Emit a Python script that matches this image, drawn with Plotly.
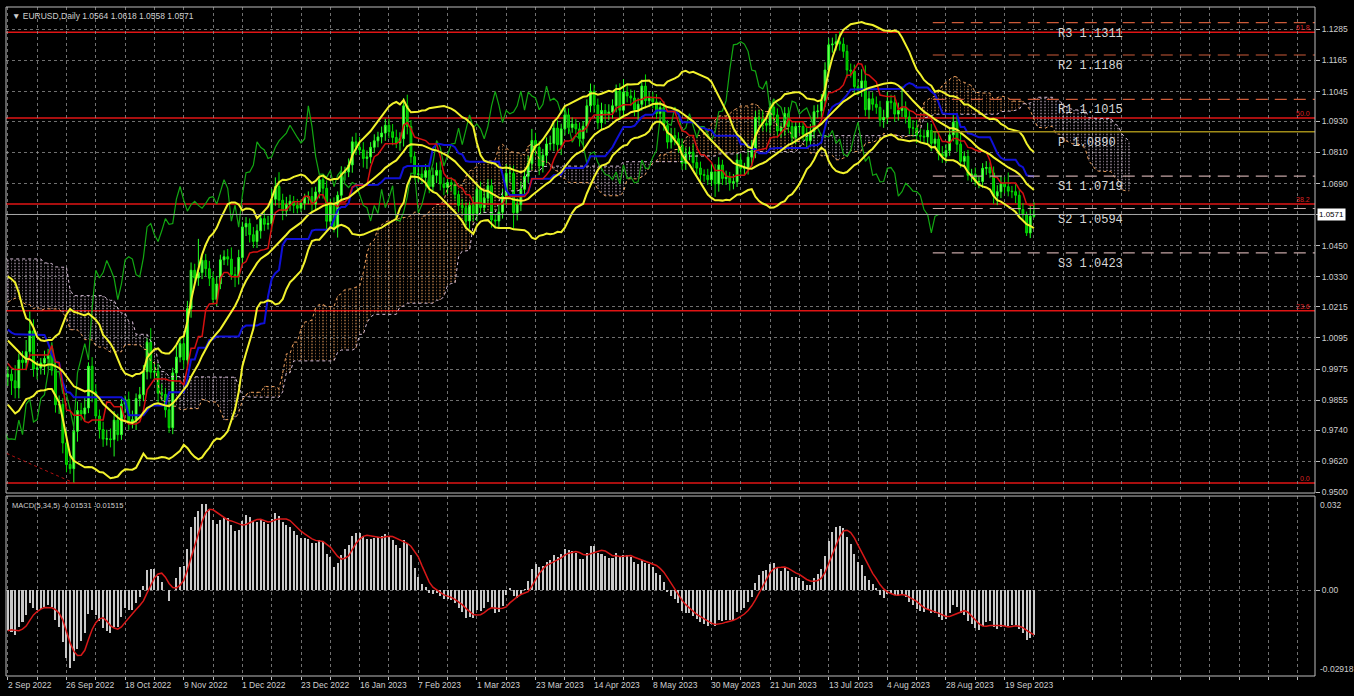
import numpy as np
import pandas as pd
import plotly.graph_objects as go

# ---------------- texts / tick labels ----------------
title_text = "\u25bc EURUSD,Daily 1.0564 1.0618 1.0558 1.0571"
macd_text = "MACD(5,34,5) -0.01531 -0.01515"
date_labels = ["2 Sep 2022", "26 Sep 2022", "18 Oct 2022", "9 Nov 2022", "1 Dec 2022",
               "23 Dec 2022", "16 Jan 2023", "7 Feb 2023", "1 Mar 2023", "23 Mar 2023",
               "14 Apr 2023", "8 May 2023", "30 May 2023", "21 Jun 2023", "13 Jul 2023",
               "4 Aug 2023", "28 Aug 2023", "19 Sep 2023"]
bars_per_label = 16
bars_per_grid = 8
price_ticks = [1.1285, 1.1165, 1.1045, 1.0930, 1.0810, 1.0690, 1.0570, 1.0450, 1.0330,
               1.0215, 1.0095, 0.9975, 0.9855, 0.9740, 0.9620, 0.9500]
last_price = 1.0571
macd_top, macd_bottom = 0.032, -0.02918

fib_levels = [0.9536, 1.0200, 1.0611, 1.0943, 1.1274]
fib_names = ["0.0", "23.6", "38.2", "50.0", "61.8"]
fib_anchor_bars = [-435, 18]
fib_anchor_prices = [1.2349, 0.9536]

pivot_names = ["R3", "R2", "R1", "P", "S1", "S2", "S3"]
pivot_values = [1.1311, 1.1186, 1.1015, 1.0890, 1.0719, 1.0594, 1.0423]

# ---------------- daily closes (estimated) ----------------
# bars before the visible window (needed for the indicators)
pre_first_open = 1.0412
close_may22 = [1.0437, 1.0552, 1.0465, 1.0585, 1.0563, 1.0690, 1.0735, 1.0680, 1.0725, 1.0732, 1.0780, 1.0733]
close_jun22 = [1.0650, 1.0750, 1.0719, 1.0697, 1.0706, 1.0716, 1.0615, 1.0518, 1.0410, 1.0416, 1.0445,
               1.0548, 1.0496, 1.0510, 1.0534, 1.0567, 1.0523, 1.0554, 1.0583, 1.0518, 1.0441, 1.0484]
close_jul22 = [1.0425, 1.0424, 1.0267, 1.0183, 1.0161, 1.0183, 1.0039, 1.0037, 1.0060, 1.0019, 1.0084,
               1.0139, 1.0227, 1.0178, 1.0230, 1.0212, 1.0222, 1.0120, 1.0198, 1.0196, 1.0225]
close_aug22 = [1.0260, 1.0163, 1.0166, 1.0247, 1.0180, 1.0196, 1.0213, 1.0297, 1.0321, 1.0258, 1.0160,
               1.0169, 1.0177, 1.0084, 1.0035, 0.9943, 0.9967, 0.9970, 0.9973, 0.9964, 1.0004, 1.0016, 1.0054]
close_sep22_pre = [0.9945]
# visible window: 2 Sep 2022 .. 29 Sep 2023
close_sep22 = [0.9955, 0.9930, 0.9902, 1.0010, 1.0000, 1.0042, 1.0122, 0.9975, 0.9979, 0.9998, 1.0016,
               1.0028, 0.9970, 0.9837, 0.9838, 0.9690, 0.9607, 0.9591, 0.9735, 0.9815, 0.9802]
close_oct22 = [0.9825, 0.9986, 0.9887, 0.9794, 0.9742, 0.9705, 0.9706, 0.9703, 0.9778, 0.9722, 0.9840,
               0.9858, 0.9771, 0.9780, 0.9861, 0.9876, 0.9965, 1.0078, 0.9963, 0.9966, 0.9882]
close_nov22 = [0.9877, 0.9818, 0.9749, 0.9960, 1.0021, 1.0073, 1.0010, 1.0208, 1.0356, 1.0326, 1.0347,
               1.0394, 1.0362, 1.0325, 1.0243, 1.0303, 1.0396, 1.0408, 1.0399, 1.0339, 1.0331, 1.0405]
close_dec22 = [1.0523, 1.0536, 1.0493, 1.0467, 1.0508, 1.0555, 1.0533, 1.0536, 1.0630, 1.0679, 1.0626,
               1.0584, 1.0609, 1.0622, 1.0606, 1.0595, 1.0614, 1.0636, 1.0640, 1.0611, 1.0658, 1.0705]
close_jan23 = [1.0672, 1.0545, 1.0607, 1.0522, 1.0645, 1.0732, 1.0735, 1.0762, 1.0851, 1.0830, 1.0820,
               1.0787, 1.0793, 1.0830, 1.0855, 1.0870, 1.0885, 1.0915, 1.0890, 1.0868, 1.0847, 1.0863]
close_feb23 = [1.0990, 1.0910, 1.0794, 1.0726, 1.0727, 1.0714, 1.0740, 1.0678, 1.0722, 1.0741, 1.0689,
               1.0675, 1.0694, 1.0686, 1.0648, 1.0606, 1.0597, 1.0546, 1.0606, 1.0575]
close_mar23 = [1.0668, 1.0597, 1.0634, 1.0682, 1.0550, 1.0546, 1.0580, 1.0640, 1.0730, 1.0730, 1.0578,
               1.0609, 1.0668, 1.0718, 1.0768, 1.0856, 1.0830, 1.0758, 1.0799, 1.0843, 1.0845, 1.0904, 1.0840]
close_apr23 = [1.0901, 1.0955, 1.0906, 1.0920, 1.0901, 1.0863, 1.0911, 1.0990, 1.1046, 1.0993, 1.0925,
               1.0972, 1.0959, 1.0966, 1.0990, 1.1047, 1.0973, 1.1043, 1.1028, 1.1020]
close_may23 = [1.0975, 1.0996, 1.1066, 1.1010, 1.1019, 1.1005, 1.0960, 1.0983, 1.0914, 1.0850, 1.0875,
               1.0863, 1.0839, 1.0768, 1.0805, 1.0812, 1.0771, 1.0750, 1.0725, 1.0722, 1.0705, 1.0735, 1.0689]
close_jun23 = [1.0762, 1.0710, 1.0715, 1.0693, 1.0697, 1.0781, 1.0749, 1.0750, 1.0792, 1.0818, 1.0945,
               1.0939, 1.0922, 1.0915, 1.0985, 1.0955, 1.0893, 1.0905, 1.0960, 1.0910, 1.0867, 1.0910]
close_jul23 = [1.0910, 1.0880, 1.0855, 1.0890, 1.0967, 1.0970, 1.1010, 1.1128, 1.1225, 1.1228, 1.1237,
               1.1228, 1.1200, 1.1128, 1.1124, 1.1064, 1.1055, 1.1086, 1.0975, 1.1017, 1.0996]
close_aug23 = [1.0984, 1.0935, 1.0945, 1.1008, 1.1002, 1.0958, 1.0972, 1.0982, 1.0947, 1.0905, 1.0904,
               1.0876, 1.0873, 1.0870, 1.0895, 1.0845, 1.0862, 1.0805, 1.0795, 1.0817, 1.0878, 1.0927, 1.0842]
close_sep23 = [1.0776, 1.0795, 1.0722, 1.0727, 1.0697, 1.0698, 1.0749, 1.0752, 1.0731, 1.0642, 1.0659,
               1.0691, 1.0678, 1.0661, 1.0659, 1.0645, 1.0590, 1.0570, 1.0500, 1.0564, 1.0571]

# upper / lower shadows in pips (estimated)
wick_up_pre = ([30, 45, 25, 30, 35, 30, 25, 35, 25, 30, 30, 30] +
               [35, 30, 25, 30, 30, 25, 30, 45, 40, 30, 50, 40, 25, 30, 30, 25, 30, 25, 30, 35, 40, 30] +
               [35, 25, 30, 30, 35, 40, 40, 35, 30, 30, 25, 45, 30, 40, 30, 30, 25, 35, 30, 25, 30] +
               [35, 30, 25, 30, 35, 25, 30, 45, 35, 30, 30, 25, 25, 20, 25, 30, 30, 25, 30, 30, 25, 35, 30] +
               [25])
wick_dn_pre = ([30, 25, 30, 30, 35, 25, 30, 30, 25, 30, 25, 30] +
               [30, 30, 25, 35, 30, 30, 25, 30, 35, 30, 50, 45, 30, 35, 30, 25, 30, 30, 25, 30, 35, 30] +
               [35, 30, 25, 30, 30, 45, 30, 35, 40, 30, 30, 25, 30, 35, 25, 30, 30, 25, 30, 25, 30] +
               [30, 30, 35, 25, 30, 25, 30, 30, 25, 25, 30, 35, 25, 30, 30, 45, 30, 25, 25, 30, 30, 25, 35] +
               [30])
wick_up = ([30, 20, 60, 25, 35, 45, 75, 45, 25, 20, 30, 25, 30, 40, 35, 25, 45, 30, 15, 35, 30] +
           [40, 15, 35, 30, 25, 30, 35, 40, 35, 25, 20, 15, 30, 35, 20, 30, 25, 15, 55, 35, 30] +
           [35, 25, 30, 20, 45, 25, 30, 30, 30, 25, 130, 20, 25, 30, 25, 30, 20, 25, 30, 45, 30, 30] +
           [20, 25, 20, 30, 25, 20, 25, 30, 40, 35, 55, 25, 30, 25, 20, 25, 15, 15, 20, 35, 20, 15] +
           [15, 30, 25, 30, 15, 25, 20, 25, 20, 35, 40, 30, 25, 20, 25, 20, 25, 25, 25, 30, 30, 25] +
           [30, 43, 25, 20, 35, 30, 25, 30, 30, 30, 35, 25, 20, 20, 20, 15, 25, 20, 15, 35] +
           [25, 30, 25, 25, 25, 20, 30, 30, 35, 30, 30, 25, 30, 25, 30, 45, 30, 25, 25, 25, 30, 25, 30] +
           [20, 30, 25, 25, 20, 25, 20, 25, 30, 25, 25, 30, 25, 30, 25, 25, 30, 50, 30, 25] +
           [30, 25, 25, 45, 25, 25, 30, 25, 25, 20, 30, 30, 25, 25, 25, 20, 30, 30, 25, 20, 25, 30, 30] +
           [30, 20, 25, 20, 30, 25, 25, 20, 30, 40, 25, 30, 35, 30, 25, 30, 25, 20, 25, 25, 20, 20] +
           [20, 20, 25, 30, 25, 25, 25, 30, 25, 25, 30, 39, 25, 25, 25, 25, 30, 45, 60, 30, 25] +
           [30, 25, 30, 35, 25, 30, 30, 83, 25, 25, 30, 30, 25, 25, 30, 25, 30, 25, 30, 25, 30, 30, 25] +
           [45, 20, 25, 20, 25, 20, 20, 25, 20, 25, 25, 30, 25, 55, 20, 30, 20, 25, 12, 45, 47])
wick_dn = ([35, 55, 40, 40, 25, 30, 20, 30, 40, 25, 45, 40, 20, 30, 35, 40, 30, 20, 55, 40, 25] +
           [30, 20, 40, 25, 35, 30, 25, 30, 65, 25, 20, 35, 30, 25, 40, 30, 25, 30, 25, 30, 35] +
           [25, 30, 20, 25, 30, 20, 35, 30, 35, 25, 30, 25, 30, 30, 20, 25, 20, 20, 25, 20, 40, 30] +
           [30, 35, 30, 25, 25, 30, 25, 20, 30, 25, 30, 35, 20, 25, 30, 20, 15, 25, 25, 30, 25, 25] +
           [40, 35, 30, 20, 40, 25, 30, 20, 30, 30, 20, 35, 40, 25, 20, 25, 25, 30, 25, 30, 20, 30] +
           [30, 30, 25, 20, 30, 25, 35, 25, 20, 30, 25, 30, 25, 25, 20, 25, 25, 25, 30, 30] +
           [30, 25, 20, 25, 30, 30, 30, 25, 30, 35, 62, 30, 25, 30, 25, 25, 30, 35, 25, 30, 25, 30, 25] +
           [40, 25, 25, 20, 20, 30, 25, 25, 25, 30, 25, 30, 40, 25, 25, 25, 35, 30, 25, 30] +
           [25, 40, 25, 30, 25, 25, 20, 30, 20, 25, 25, 25, 30, 25, 25, 25, 25, 25, 25, 25, 20, 25, 50] +
           [30, 25, 25, 30, 25, 20, 30, 25, 25, 35, 30, 25, 30, 25, 30, 25, 25, 25, 30, 25, 25, 25] +
           [25, 25, 25, 20, 25, 25, 30, 25, 25, 30, 25, 25, 25, 30, 25, 30, 25, 30, 25, 35, 25] +
           [25, 25, 30, 25, 25, 30, 25, 25, 25, 25, 35, 30, 25, 25, 25, 30, 20, 25, 25, 25, 20, 25, 30] +
           [25, 25, 20, 25, 15, 25, 25, 25, 20, 30, 35, 25, 25, 20, 25, 30, 25, 20, 12, 20, 6])

# MACD (5,34,5) settings, Bollinger (20,2), Ichimoku (9,26,52)
macd_fast, macd_slow, macd_sig = 5, 34, 5
bb_period, bb_dev = 20, 2
tenkan_p, kijun_p, senkou_p = 9, 26, 52

# ---------------- assemble series ----------------
pre_close = close_may22 + close_jun22 + close_jul22 + close_aug22 + close_sep22_pre
win_close = (close_sep22 + close_oct22 + close_nov22 + close_dec22 + close_jan23 + close_feb23 +
             close_mar23 + close_apr23 + close_may23 + close_jun23 + close_jul23 + close_aug23 + close_sep23)
assert len(pre_close) == len(wick_up_pre) == len(wick_dn_pre), (len(pre_close), len(wick_up_pre), len(wick_dn_pre))
assert len(win_close) == len(wick_up) == len(wick_dn), (len(win_close), len(wick_up), len(wick_dn))

C = np.array(pre_close + win_close)
O = np.concatenate([[pre_first_open], C[:-1]])
U = np.array(wick_up_pre + wick_up) / 1e4
D = np.array(wick_dn_pre + wick_dn) / 1e4
H = np.maximum(O, C) + U
L = np.minimum(O, C) - D
n_pre = len(pre_close)
idx = np.arange(len(C)) - n_pre
vis = idx >= 0

s = pd.Series(C)
hs, ls = pd.Series(H), pd.Series(L)
bb_mid = s.rolling(bb_period).mean()
bb_sd = s.rolling(bb_period).std(ddof=0)
bb_up = bb_mid + bb_dev * bb_sd
bb_lo = bb_mid - bb_dev * bb_sd
tenkan = (hs.rolling(tenkan_p).max() + ls.rolling(tenkan_p).min()) / 2
kijun = (hs.rolling(kijun_p).max() + ls.rolling(kijun_p).min()) / 2
span_a = (tenkan + kijun) / 2
span_b = (hs.rolling(senkou_p).max() + ls.rolling(senkou_p).min()) / 2
macd = s.ewm(span=macd_fast, adjust=False).mean() - s.ewm(span=macd_slow, adjust=False).mean()
signal = macd.rolling(macd_sig).mean()

x_min = -0.5
x_max = x_min + 1312 / 3.673

# ---------------- figure ----------------
fig = go.Figure()

# Ichimoku cloud (dotted hatch)
ok = (~span_b.isna()).values & ((idx + kijun_p) >= -1)
cx = idx[ok] + kijun_p
a = span_a.values[ok]
b = span_b.values[ok]
for mask, col in [(a >= b, "#f4a460"), (a < b, "#d8bfd8")]:
    fig.add_trace(go.Bar(
        x=cx[mask], y=np.abs(a - b)[mask], base=np.minimum(a, b)[mask], width=0.42,
        marker=dict(color="rgba(0,0,0,0)", line=dict(width=0),
                    pattern=dict(shape="-", fgcolor=col, bgcolor="rgba(0,0,0,0)", size=3, solidity=0.5)),
        xaxis="x", yaxis="y", hoverinfo="skip"))

# candles
fig.add_trace(go.Candlestick(
    x=idx[vis], open=O[vis], high=H[vis], low=L[vis], close=C[vis],
    increasing=dict(line=dict(color="#22ff22", width=1), fillcolor="#8cff6a"),
    decreasing=dict(line=dict(color="#00dd00", width=1), fillcolor="#00b000"),
    whiskerwidth=0, xaxis="x", yaxis="y", hoverinfo="skip"))

# senkou span edges
fig.add_trace(go.Scatter(x=cx, y=a, mode="lines", line=dict(color="#f4a460", width=1, dash="dot"),
                         xaxis="x", yaxis="y", hoverinfo="skip"))
fig.add_trace(go.Scatter(x=cx, y=b, mode="lines", line=dict(color="#d8bfd8", width=1, dash="dot"),
                         xaxis="x", yaxis="y", hoverinfo="skip"))
# chikou
fig.add_trace(go.Scatter(x=idx[vis] - kijun_p, y=C[vis], mode="lines", line=dict(color="#12a812", width=1.2),
                         xaxis="x", yaxis="y", hoverinfo="skip"))
# kijun / tenkan
fig.add_trace(go.Scatter(x=idx[vis], y=kijun.values[vis], mode="lines", line=dict(color="#1010d8", width=2),
                         xaxis="x", yaxis="y", hoverinfo="skip"))
fig.add_trace(go.Scatter(x=idx[vis], y=tenkan.values[vis], mode="lines", line=dict(color="#d41010", width=1.5),
                         xaxis="x", yaxis="y", hoverinfo="skip"))
# fib diagonal
fig.add_trace(go.Scatter(x=fib_anchor_bars, y=fib_anchor_prices, mode="lines",
                         line=dict(color="#b01010", width=1, dash="dot"), xaxis="x", yaxis="y", hoverinfo="skip"))
# bollinger
for ser in (bb_up, bb_mid, bb_lo):
    fig.add_trace(go.Scatter(x=idx[vis], y=ser.values[vis], mode="lines", line=dict(color="#f2f22c", width=2),
                             xaxis="x", yaxis="y", hoverinfo="skip"))

# pivot lines
pivot_start = 252.4
for name, val in zip(pivot_names, pivot_values):
    if name == "P":
        ln = dict(color="#a08c18", width=1.5)
    elif name.startswith("R"):
        ln = dict(color="#cc5a38", width=1.2, dash="12px,7px")
    else:
        ln = dict(color="#c4a4a4", width=1.2, dash="12px,7px")
    fig.add_trace(go.Scatter(x=[pivot_start, x_max], y=[val, val], mode="lines", line=ln,
                             xaxis="x", yaxis="y", hoverinfo="skip"))

# MACD
fig.add_trace(go.Bar(x=idx[vis], y=macd.values[vis], width=0.55, marker=dict(color="#c8c8c8", line=dict(width=0)),
                     xaxis="x2", yaxis="y2", hoverinfo="skip"))
fig.add_trace(go.Scatter(x=idx[vis], y=signal.values[vis], mode="lines", line=dict(color="#d81818", width=1.5),
                         xaxis="x2", yaxis="y2", hoverinfo="skip"))

# ---------------- layout ----------------
main_dom = [0.2735, 1.0]
macd_dom = [0.0, 0.269]
grid_vals = list(range(0, int(x_max) + 1, bars_per_grid))
grid_col = "rgba(150,150,150,0.75)"
txt_col = "#cfcfcf"
axis_font = dict(family="Liberation Sans, Arial, sans-serif", size=8.5, color=txt_col)
# the tick label under the current-price box is hidden (as in the terminal)
price_ticktext = ["" if abs(v - last_price) < 0.0006 else f"{v:.4f}" for v in price_ticks]

shapes = []
for lv in fib_levels:
    shapes.append(dict(type="line", xref="paper", x0=0, x1=1, yref="y", y0=lv, y1=lv,
                       line=dict(color="#e01414", width=1.5), layer="below"))
shapes.append(dict(type="line", xref="paper", x0=0, x1=1, yref="y", y0=last_price, y1=last_price,
                   line=dict(color="#a8a8a8", width=1)))
for dom in (main_dom, macd_dom):
    shapes.append(dict(type="rect", xref="paper", yref="paper", x0=0, x1=1, y0=dom[0], y1=dom[1],
                       line=dict(color="#bdbdbd", width=1)))

ann = []
ann.append(dict(text=title_text, xref="paper", yref="paper", x=0, y=1, xanchor="left", yanchor="top",
                xshift=4, yshift=-2, showarrow=False, font=dict(family="Liberation Sans, Arial", size=8.5, color=txt_col)))
ann.append(dict(text=macd_text, xref="paper", yref="paper", x=0, y=macd_dom[1], xanchor="left", yanchor="top",
                xshift=4, yshift=-3, showarrow=False, font=dict(family="Liberation Sans, Arial", size=7.5, color=txt_col)))
for k, lab in enumerate(date_labels):
    ann.append(dict(text=lab, xref="x2", yref="paper", x=k * bars_per_label, y=0, xanchor="left", yanchor="top",
                    xshift=-2, yshift=-2, showarrow=False, font=axis_font))
ann.append(dict(text=f"{last_price:.4f}", xref="paper", yref="y", x=1, y=last_price, xanchor="left", yanchor="middle",
                xshift=2, showarrow=False, bgcolor="#ffffff", borderpad=1,
                font=dict(family="Liberation Sans, Arial", size=8, color="#000000")))
ann.append(dict(text=f"{macd_top:.3f}", xref="paper", yref="y2", x=1, y=macd_top, xanchor="left", yanchor="top",
                xshift=3, yshift=-2, showarrow=False, font=axis_font))
ann.append(dict(text=f"{macd_bottom:.5f}", xref="paper", yref="y2", x=1, y=macd_bottom, xanchor="left",
                yanchor="bottom", xshift=3, showarrow=False, font=axis_font))
for name, lv in zip(fib_names, fib_levels):
    ann.append(dict(text=name, xref="paper", yref="y", x=1, y=lv, xanchor="right", yanchor="bottom",
                    xshift=-3, yshift=-1, showarrow=False,
                    font=dict(family="Liberation Sans, Arial", size=7, color="#dd2020")))
for name, val in zip(pivot_names, pivot_values):
    ann.append(dict(text=f"{name} {val:.4f}", xref="x", yref="y", x=286, y=val, xanchor="left", yanchor="top",
                    yshift=-2, showarrow=False,
                    font=dict(family="Liberation Mono, DejaVu Sans Mono, monospace", size=12, color="#d6d6d6")))

fig.update_layout(
    width=1354, height=696,
    margin=dict(l=6, r=36, t=7, b=20),
    paper_bgcolor="#000000", plot_bgcolor="#000000",
    showlegend=False, barmode="overlay", bargap=0,
    xaxis=dict(domain=[0, 1], anchor="y", range=[x_min, x_max], tickvals=grid_vals, showticklabels=False,
               ticks="", showgrid=True, gridcolor=grid_col, griddash="dot", gridwidth=1, zeroline=False,
               rangeslider=dict(visible=False), showline=False),
    xaxis2=dict(domain=[0, 1], anchor="y2", matches="x", range=[x_min, x_max], tickvals=grid_vals,
                showticklabels=False, ticks="outside", ticklen=3, tickcolor="#bdbdbd",
                showgrid=True, gridcolor=grid_col, griddash="dot", gridwidth=1, zeroline=False,
                rangeslider=dict(visible=False), showline=False),
    yaxis=dict(domain=main_dom, anchor="x", range=[0.9497, 1.1371], side="right",
               tickvals=price_ticks, ticktext=price_ticktext,
               tickfont=axis_font, ticks="outside", ticklen=4, tickcolor="#bdbdbd",
               showgrid=True, gridcolor=grid_col, griddash="dot", gridwidth=1, zeroline=False),
    yaxis2=dict(domain=macd_dom, anchor="x2", range=[macd_bottom, macd_top], side="right",
                tickvals=[0], ticktext=["0.00"], tickfont=axis_font, ticks="outside", ticklen=4,
                tickcolor="#bdbdbd", showgrid=True, gridcolor=grid_col, griddash="dot", gridwidth=1,
                zeroline=False),
    shapes=shapes, annotations=ann,
)

fig.write_html("out.html", include_plotlyjs=True, full_html=True,
               config={"displayModeBar": False, "staticPlot": True},
               post_script="document.body.style.margin='0';document.body.style.background='#000';"
                           "document.body.style.overflow='hidden';")
